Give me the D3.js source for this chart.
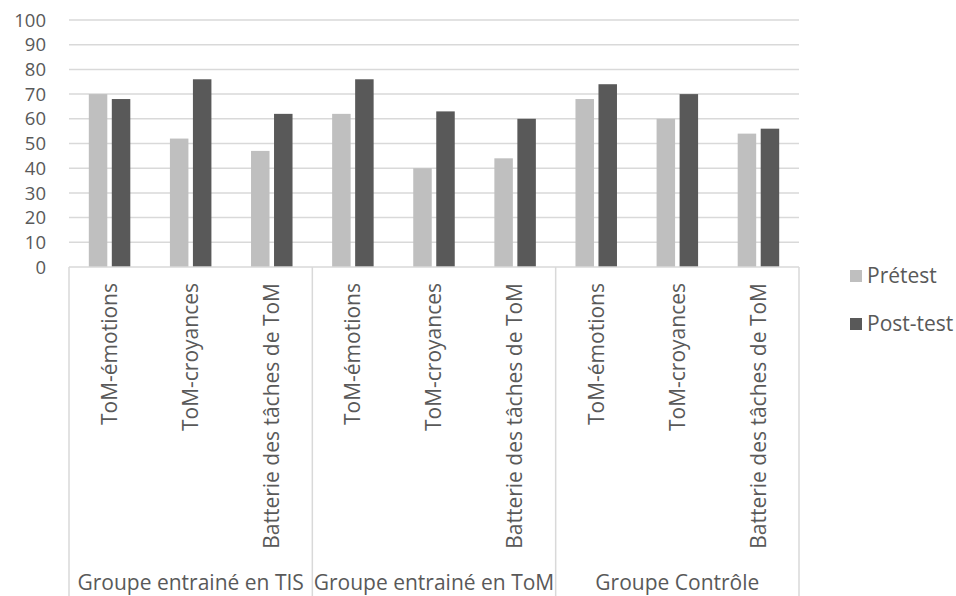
<!DOCTYPE html>
<html>
<head>
<meta charset="utf-8">
<script src="https://cdn.jsdelivr.net/npm/d3@7"></script>
<style>
  html, body { margin: 0; padding: 0; background: #fff; }
  svg { display: block; font-family: "Open Sans", "Noto Sans", sans-serif; }
</style>
</head>
<body>
<svg id="chart" width="956" height="596"></svg>
<script>
// Groups and tasks along the category axis
const groups = ["Groupe entrainé en TIS", "Groupe entrainé en ToM", "Groupe Contrôle"];
const tasks = ["ToM-émotions", "ToM-croyances", "Batterie des tâches de ToM"];
const seriesNames = ["Prétest", "Post-test"];
const seriesColors = ["#bfbfbf", "#595959"];

// Scores per group, in task order
const pretest = [
  [70, 52, 47],
  [62, 40, 44],
  [68, 60, 54]
];
const posttest = [
  [68, 76, 62],
  [76, 63, 60],
  [74, 70, 56]
];

const yTicks = [0, 10, 20, 30, 40, 50, 60, 70, 80, 90, 100];

// Flatten into one row per (group, task)
const rows = [];
groups.forEach((g, gi) => {
  tasks.forEach((t, ti) => {
    rows.push({ key: gi + "|" + ti, group: g, gi, task: t, values: [pretest[gi][ti], posttest[gi][ti]] });
  });
});

const svg = d3.select("#chart");
const plot = { left: 69, right: 799, top: 20, bottom: 267 };
const textColor = "#595959";
const gridColor = "#d9d9d9";
const fontSize = 21;
const tickFontSize = 18.5;

const y = d3.scaleLinear().domain([0, 100]).range([plot.bottom, plot.top]);
const x0 = d3.scaleBand().domain(rows.map(r => r.key)).range([plot.left, plot.right]).paddingInner(0).paddingOuter(0);
const x1 = d3.scaleBand().domain(seriesNames).range([0, x0.bandwidth()]).paddingInner(0.196).paddingOuter(0.861);
const xg = d3.scaleBand().domain(groups).range([plot.left, plot.right]).padding(0);

// Horizontal gridlines
svg.append("g")
  .selectAll("line")
  .data(yTicks.filter(d => d > 0))
  .join("line")
  .attr("x1", plot.left).attr("x2", plot.right)
  .attr("y1", d => y(d)).attr("y2", d => y(d))
  .attr("stroke", gridColor).attr("stroke-width", 1.5);

// Y tick labels
svg.append("g")
  .selectAll("text")
  .data(yTicks)
  .join("text")
  .attr("x", 46)
  .attr("y", d => y(d))
  .attr("dy", "0.36em")
  .attr("text-anchor", "end")
  .attr("fill", textColor)
  .attr("font-size", tickFontSize)
  .text(d => d);

// Bars
const barGroups = svg.append("g")
  .selectAll("g")
  .data(rows)
  .join("g")
  .attr("transform", d => `translate(${x0(d.key)},0)`);

barGroups.selectAll("rect")
  .data(d => d.values.map((v, i) => ({ name: seriesNames[i], value: v, i })))
  .join("rect")
  .attr("x", d => x1(d.name))
  .attr("y", d => y(d.value))
  .attr("width", x1.bandwidth())
  .attr("height", d => y(0) - y(d.value))
  .attr("fill", d => seriesColors[d.i]);

// Category axis line and group separators
svg.append("line")
  .attr("x1", plot.left).attr("x2", plot.right)
  .attr("y1", plot.bottom).attr("y2", plot.bottom)
  .attr("stroke", gridColor).attr("stroke-width", 1.5);

const sepX = groups.map(g => xg(g)).concat([plot.right]);
svg.append("g")
  .selectAll("line")
  .data(sepX)
  .join("line")
  .attr("x1", d => d).attr("x2", d => d)
  .attr("y1", plot.bottom).attr("y2", 596)
  .attr("stroke", gridColor).attr("stroke-width", 1.5);

// Rotated task labels
svg.append("g")
  .selectAll("text")
  .data(rows)
  .join("text")
  .attr("transform", d => `translate(${x0(d.key) + x0.bandwidth() / 2},283) rotate(-90)`)
  .attr("text-anchor", "end")
  .attr("dy", "0.35em")
  .attr("fill", textColor)
  .attr("font-size", fontSize)
  .text(d => d.task);

// Group labels
svg.append("g")
  .selectAll("text")
  .data(groups)
  .join("text")
  .attr("x", d => xg(d) + xg.bandwidth() / 2)
  .attr("y", 583)
  .attr("dy", "0.35em")
  .attr("text-anchor", "middle")
  .attr("fill", textColor)
  .attr("font-size", fontSize)
  .text(d => d);

// Legend
const legend = svg.append("g")
  .selectAll("g")
  .data(seriesNames)
  .join("g")
  .attr("transform", (d, i) => `translate(850,${276 + i * 48})`);

legend.append("rect")
  .attr("x", 0).attr("y", -6)
  .attr("width", 12).attr("height", 12)
  .attr("fill", (d, i) => seriesColors[i]);

legend.append("text")
  .attr("x", 17)
  .attr("y", 0)
  .attr("dy", "0.35em")
  .attr("fill", textColor)
  .attr("font-size", fontSize)
  .text(d => d);
</script>
</body>
</html>
